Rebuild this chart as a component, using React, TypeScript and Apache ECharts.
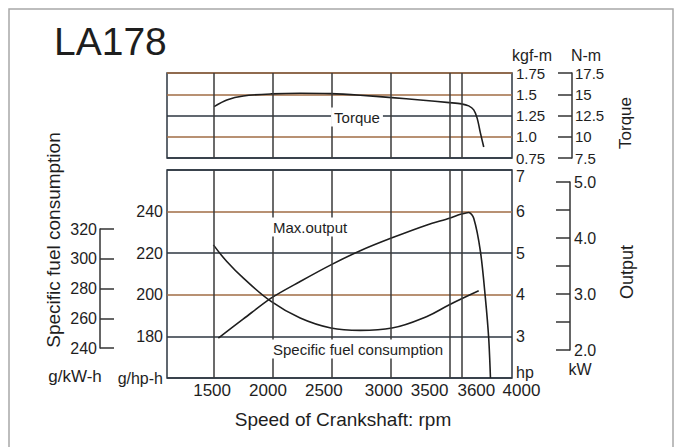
import React, { useEffect, useRef } from "react";
import * as echarts from "echarts";

// ---- data ----
const gridRpm = [1500, 2000, 2500, 3000, 3500, 3600];
const xLabelValues = [1500, 2000, 2500, 3000, 3500, 3600, 4000];

const torqueRpm = [1500, 1608, 1749, 1984, 2231, 2492, 2741, 3011, 3251, 3498, 3600, 3662, 3705, 3734, 3762, 3790];
const torqueKgf = [1.355, 1.433, 1.48, 1.504, 1.512, 1.507, 1.488, 1.46, 1.433, 1.402, 1.387, 1.363, 1.316, 1.219, 1.043, 0.879];

const outputRpm = [1536, 1749, 1984, 2231, 2492, 2741, 3011, 3308, 3498, 3600, 3662, 3705, 3762, 3804, 3832, 3847];
const outputHp = [2.96, 3.42, 3.92, 4.32, 4.72, 5.06, 5.37, 5.68, 5.84, 5.94, 5.98, 5.84, 5.04, 3.92, 2.96, 2.0];

const sfcRpm = [1494, 1608, 1749, 1984, 2231, 2492, 2741, 3011, 3308, 3498, 3747];
const sfcG = [224, 216, 208, 196.8, 188.8, 184, 182.9, 184, 189.6, 195.2, 201.9];

// ---- style constants ----
const FONT = '"Liberation Sans", Arial, sans-serif';
const INK = "#1e1e1e";
const DARK = "#2d3640";
const ORANGE = "#a06c44";
const xLabelShift = [-2, -5, -8, -7, -20, 15, 13];

const zip = (a: number[], b: number[]) => a.map((v, i) => [v, b[i]]);

export default function App() {
  const ref = useRef<HTMLDivElement>(null);
  useEffect(() => {
    if (!ref.current) return;
    const chart = echarts.init(ref.current, null, { renderer: "svg" });

    const rich: Record<string, any> = {};
    xLabelShift.forEach((s, i) => {
      rich["s" + i] = {
        fontSize: 17,
        fontFamily: FONT,
        color: INK,
        padding: s < 0 ? [0, -2 * s, 0, 0] : [0, 0, 0, 2 * s],
      };
    });

    const vLines = {
      silent: true,
      symbol: ["none", "none"],
      label: { show: false },
      lineStyle: { color: "#3a3a3a", width: 1.5, type: "solid" },
      data: gridRpm.map((v) => ({ xAxis: v })),
      animation: false,
    };

    const txt = (text: string, x: number, y: number, size: number, extra: any = {}) => ({
      type: "text",
      x,
      y,
      z: 100,
      silent: true,
      rotation: extra.rotation || 0,
      style: {
        text,
        fontSize: size,
        fontFamily: FONT,
        fill: INK,
        align: extra.align || "center",
        verticalAlign: "middle",
        backgroundColor: extra.bg,
        padding: extra.padding,
      },
    });

    const option: any = {
      animation: false,
      textStyle: { fontFamily: FONT, color: INK },
      grid: [
        { left: 167, top: 73, width: 345, height: 85, show: true, borderColor: DARK, borderWidth: 1.5, backgroundColor: "transparent" },
        { left: 167, top: 170, width: 345, height: 208, show: true, borderColor: DARK, borderWidth: 1.5, backgroundColor: "transparent" },
        { left: 570, top: 182, width: 1, height: 168 },
        { left: 100, top: 229, width: 1, height: 119 },
      ],
      xAxis: [
        { type: "value", gridIndex: 0, min: 1100, max: 4030, axisLine: { show: false }, axisTick: { show: false }, axisLabel: { show: false }, splitLine: { show: false } },
        {
          type: "value",
          gridIndex: 1,
          min: 1100,
          max: 4030,
          axisLine: { show: false },
          axisTick: { show: false },
          splitLine: { show: false },
          axisLabel: {
            show: true,
            customValues: xLabelValues,
            margin: 4,
            showMinLabel: true,
            showMaxLabel: true,
            formatter: (v: number) => {
              const i = xLabelValues.indexOf(v);
              return i < 0 ? "" : `{s${i}|${v}}`;
            },
            rich,
          },
        },
        { type: "value", gridIndex: 2, min: 0, max: 1, show: false },
        { type: "value", gridIndex: 3, min: 0, max: 1, show: false },
      ],
      yAxis: [
        {
          type: "value",
          gridIndex: 0,
          position: "right",
          min: 0.75,
          max: 1.75,
          interval: 0.25,
          axisLine: { show: false },
          axisTick: { show: false },
          axisLabel: { margin: 4, fontSize: 15, color: INK, formatter: (v: number) => (v === 1 ? "1.0" : String(v)) },
          splitLine: { show: true, lineStyle: { width: 1.5, color: [DARK, ORANGE, DARK, ORANGE, ORANGE] } },
        },
        {
          type: "value",
          gridIndex: 0,
          position: "right",
          offset: 60,
          min: 7.5,
          max: 17.5,
          interval: 2.5,
          axisLine: { show: true, lineStyle: { color: "#333", width: 1.5 } },
          axisTick: { show: true, inside: true, length: 14, lineStyle: { color: "#333", width: 1.5 } },
          axisLabel: { margin: 3, fontSize: 15, color: INK },
          splitLine: { show: false },
        },
        {
          type: "value",
          gridIndex: 1,
          position: "right",
          min: 2,
          max: 7,
          interval: 1,
          axisLine: { show: false },
          axisTick: { show: false },
          axisLabel: {
            margin: 4,
            fontSize: 16,
            color: INK,
            formatter: (v: number) => (v === 2 ? "{b|hp}" : v === 7 ? "{t|7}" : String(v)),
            rich: {
              b: { fontSize: 16, fontFamily: FONT, color: INK, padding: [0, 0, 12, 0] },
              t: { fontSize: 16, fontFamily: FONT, color: INK, padding: [12, 0, 0, 0] },
            },
          },
          splitLine: { show: true, lineStyle: { width: 1.5, color: [DARK, DARK, ORANGE, DARK, ORANGE, DARK] } },
        },
        {
          type: "value",
          gridIndex: 1,
          position: "left",
          min: 160,
          max: 260,
          interval: 20,
          axisLine: { show: false },
          axisTick: { show: false },
          axisLabel: {
            margin: 4,
            fontSize: 16,
            color: INK,
            showMinLabel: true,
            formatter: (v: number) => (v === 160 ? "g/hp-h" : v === 260 ? "" : String(v)),
          },
          splitLine: { show: false },
        },
        {
          type: "value",
          gridIndex: 2,
          position: "right",
          min: 2,
          max: 5,
          interval: 0.5,
          axisLine: { show: true, lineStyle: { color: "#333", width: 1.5 } },
          axisTick: { show: true, inside: true, length: 14, lineStyle: { color: "#333", width: 1.5 } },
          axisLabel: { margin: 3, fontSize: 16, color: INK, formatter: (v: number) => (Number.isInteger(v) ? v.toFixed(1) : "") },
          splitLine: { show: false },
        },
        {
          type: "value",
          gridIndex: 3,
          position: "left",
          min: 240,
          max: 320,
          interval: 20,
          axisLine: { show: true, lineStyle: { color: "#333", width: 1.5 } },
          axisTick: { show: true, inside: true, length: 14, lineStyle: { color: "#333", width: 1.5 } },
          axisLabel: { margin: 3, fontSize: 16, color: INK },
          splitLine: { show: false },
        },
      ],
      series: [
        {
          type: "line",
          name: "Torque",
          xAxisIndex: 0,
          yAxisIndex: 0,
          data: zip(torqueRpm, torqueKgf),
          smooth: 0.3,
          symbol: "none",
          lineStyle: { color: INK, width: 1.6 },
          markLine: vLines,
          z: 3,
        },
        {
          type: "line",
          name: "Max.output",
          xAxisIndex: 1,
          yAxisIndex: 2,
          data: zip(outputRpm, outputHp),
          smooth: 0.3,
          symbol: "none",
          lineStyle: { color: INK, width: 1.6 },
          markLine: vLines,
          z: 3,
        },
        {
          type: "line",
          name: "Specific fuel consumption",
          xAxisIndex: 1,
          yAxisIndex: 3,
          data: zip(sfcRpm, sfcG),
          smooth: 0.4,
          symbol: "none",
          lineStyle: { color: INK, width: 1.6 },
          z: 3,
        },
      ],
      graphic: [
        {
          type: "rect",
          z: 0,
          silent: true,
          shape: { x: 9, y: 9, width: 664, height: 470 },
          style: { fill: "none", stroke: "#a8a8a8", lineWidth: 1.5 },
        },
        txt("LA178", 54, 41, 39, { align: "left" }),
        txt("kgf-m", 532, 55, 16),
        txt("N-m", 586, 55, 16),
        txt("kW", 580, 369, 16),
        txt("g/kW-h", 75, 376, 17),
        txt("Torque", 625, 123, 17, { rotation: Math.PI / 2 }),
        txt("Output", 627, 272, 18, { rotation: Math.PI / 2 }),
        txt("Specific fuel consumption", 53, 240, 19, { rotation: Math.PI / 2 }),
        txt("Speed of Crankshaft: rpm", 343, 419, 19),
        txt("Torque", 357, 117, 15, { bg: "#ffffff", padding: [2, 3] }),
        txt("Max.output", 270, 227, 15, { align: "left", bg: "#ffffff", padding: [2, 3] }),
        txt("Specific fuel consumption", 270, 349, 15, { align: "left", bg: "#ffffff", padding: [2, 3] }),
      ],
    };

    chart.setOption(option);
    return () => chart.dispose();
  }, []);

  return (
    <div
      ref={ref}
      style={{ position: "fixed", left: 0, top: 0, width: 679, height: 447, background: "#ffffff" }}
    />
  );
}
